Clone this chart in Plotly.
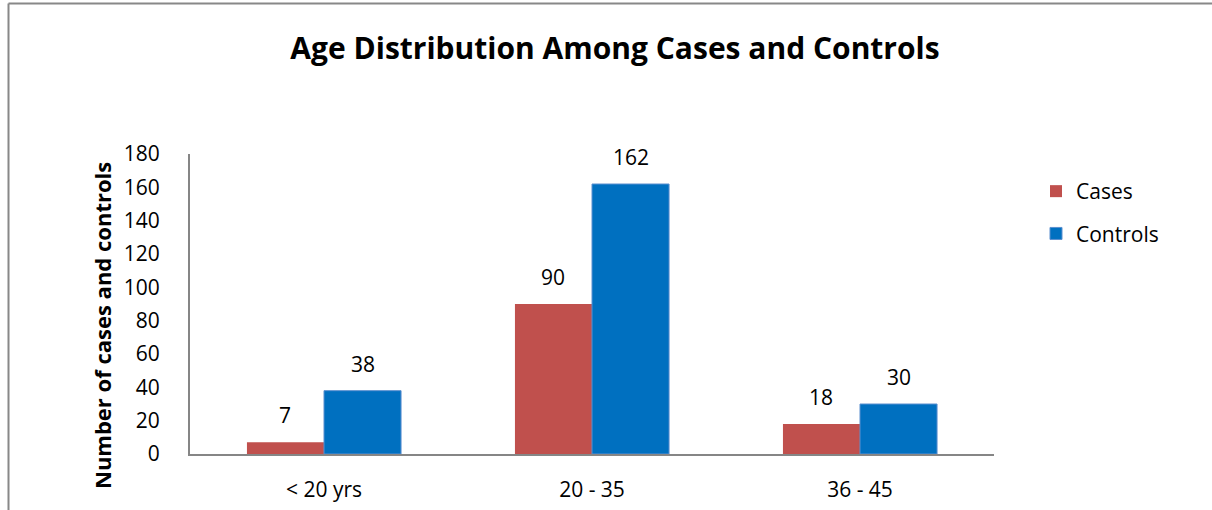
import plotly.graph_objects as go

categories = ["< 20 yrs", "20 - 35", "36 - 45"]
cases = [7, 90, 18]
controls = [38, 162, 30]
y_ticks = [0, 20, 40, 60, 80, 100, 120, 140, 160, 180]

FONT = "Open Sans"
RED = "#C0504D"
BLUE = "#0070C0"
AXIS = "#868686"

W, H = 1212, 510
L, R, T, B = 190, 218, 154, 56
plot_w = W - L - R
plot_h = H - T - B

fig = go.Figure()
fig.add_trace(go.Bar(name="Cases", x=categories, y=cases, marker=dict(color=RED, line=dict(width=0)),
                     legendgroup="a"))
fig.add_trace(go.Bar(name="Controls", x=categories, y=controls,
                     marker=dict(color=BLUE, line=dict(color="#5B8FCF", width=1)), legendgroup="b"))

bargap = 0.425
bar_px = plot_w / len(categories) * (1 - bargap) / 2
annotations = []
for series, sign in ((cases, -1), (controls, 1)):
    for c, v in zip(categories, series):
        annotations.append(dict(x=c, y=v, xref="x", yref="y", text=str(v), showarrow=False,
                                xshift=sign * bar_px / 2, yshift=27, yanchor="middle",
                                font=dict(family=FONT, size=21, color="black")))

annotations.append(dict(text="<b>Number of cases and controls</b>", textangle=-90, showarrow=False,
                        xref="paper", yref="paper", x=(102 - L) / plot_w, y=(H - B - 326) / plot_h,
                        xanchor="center", yanchor="middle", font=dict(family=FONT, size=22, color="black")))

fig.update_layout(
    width=W, height=H,
    margin=dict(l=L, r=R, t=T, b=B, autoexpand=False),
    paper_bgcolor="white", plot_bgcolor="white",
    barmode="group", bargap=bargap, bargroupgap=0,
    title=dict(text="<b>Age Distribution Among Cases and Controls</b>", x=615 / W, xanchor="center",
               y=1 - 48 / H, yanchor="middle", font=dict(family=FONT, size=30, color="black")),
    font=dict(family=FONT, size=21, color="black"),
    legend=dict(x=(1036 - L) / plot_w, y=(H - B - 171) / plot_h, xanchor="left", yanchor="top",
                font=dict(family=FONT, size=21, color="black"), tracegroupgap=12,
                bgcolor="rgba(0,0,0,0)", itemwidth=30),
    annotations=annotations,
    shapes=[
        dict(type="line", xref="paper", yref="paper", x0=(8.5 - L) / plot_w, x1=(W + 5 - L) / plot_w,
             y0=(H - B - 3.5) / plot_h, y1=(H - B - 3.5) / plot_h, line=dict(color="#888888", width=2)),
        dict(type="line", xref="paper", yref="paper", x0=(8.5 - L) / plot_w, x1=(8.5 - L) / plot_w,
             y0=(H - B - 3.5) / plot_h, y1=(H - B - H - 5) / plot_h, line=dict(color="#888888", width=2)),
    ],
)
fig.update_xaxes(showline=True, linecolor=AXIS, linewidth=2, showgrid=False, ticks="",
                 ticklabelstandoff=16, tickfont=dict(family=FONT, size=21, color="black"))
fig.update_yaxes(range=[0, 180], tickvals=y_ticks, showline=True, linecolor=AXIS, linewidth=2,
                 showgrid=False, zeroline=False, ticks="", ticklabelstandoff=24,
                 tickfont=dict(family=FONT, size=21, color="black"))

fig.write_html("out.html", config={"displayModeBar": False},
               post_script="document.body.style.margin='0';document.body.style.overflow='hidden';")
